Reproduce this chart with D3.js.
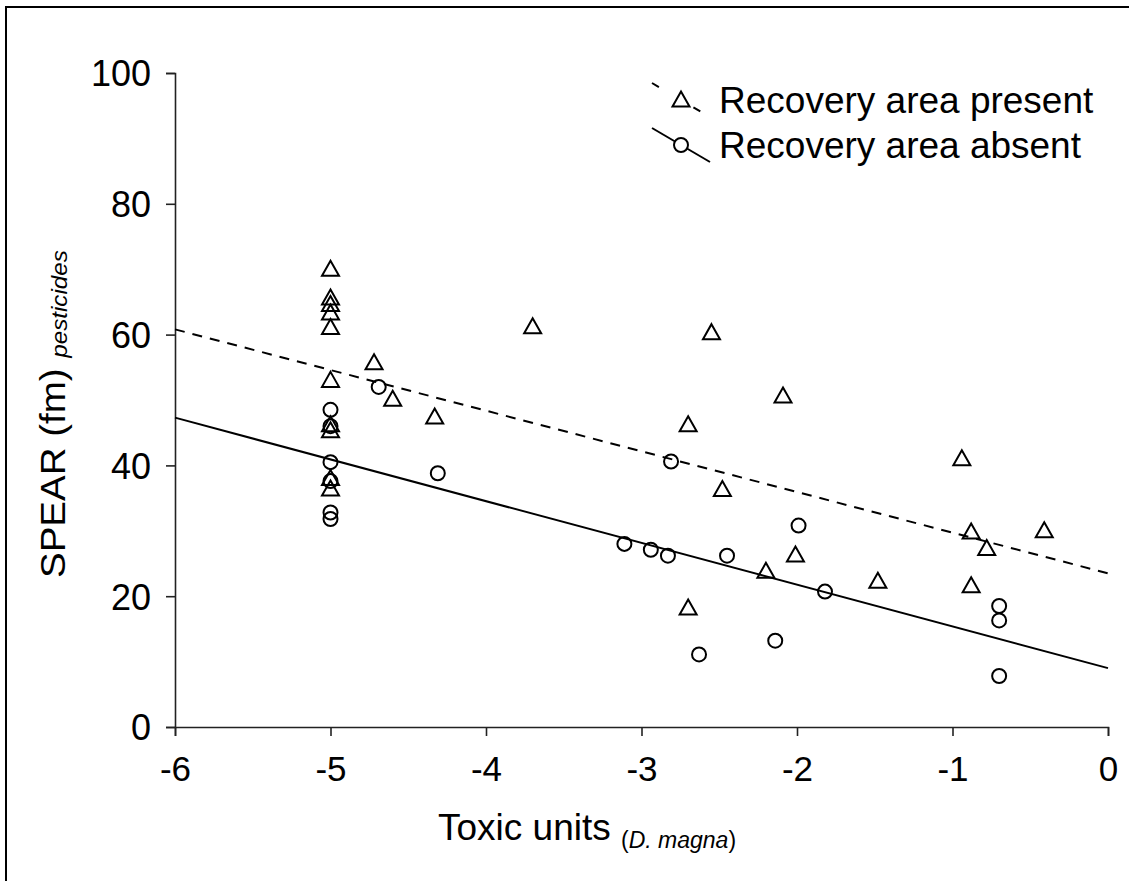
<!DOCTYPE html>
<html>
<head>
<meta charset="utf-8">
<script src="https://d3js.org/d3.v7.min.js"></script>
<style>
  html, body { margin: 0; padding: 0; background: #fff; }
  svg { display: block; }
  text { font-family: Arial, "Liberation Sans", sans-serif; fill: #000; }
</style>
</head>
<body>
<div id="chart"></div>
<script>
// Recovery area present (triangles)
const presentX = [-5, -5, -5, -5, -5, -5, -5, -5, -5, -5,
    -4.72, -4.60, -4.33, -3.70, -2.70, -2.55, -2.48, -2.70, -2.20, -2.09,
    -2.01, -1.48, -0.94, -0.88, -0.88, -0.78, -0.41];
const presentY = [70.0, 65.6, 64.6, 63.3, 61.1, 53.0, 46.2, 45.3, 38.0, 36.4,
    55.7, 50.1, 47.4, 61.2, 46.2, 60.3, 36.3, 18.2, 23.8, 50.6,
    26.3, 22.3, 41.0, 29.8, 21.6, 27.3, 30.0];

// Recovery area absent (circles)
const absentX = [-5, -5, -5, -5, -5, -5,
    -4.69, -4.31, -3.11, -2.94, -2.83, -2.81, -2.63, -2.45, -2.14,
    -1.99, -1.82, -0.70, -0.70, -0.70];
const absentY = [48.5, 46.0, 40.5, 37.6, 32.8, 31.8,
    52.0, 38.8, 28.0, 27.1, 26.2, 40.6, 11.1, 26.2, 13.2,
    30.8, 20.7, 18.5, 16.3, 7.8];

// regression lines (end points at x = -6 and x = 0)
const fitX = [-6, 0];
const presentFit = [60.8, 23.5];
const absentFit = [47.3, 9.0];

const xTicks = [-6, -5, -4, -3, -2, -1, 0];
const yTicks = [0, 20, 40, 60, 80, 100];
const legendLabels = ['Recovery area present', 'Recovery area absent'];

const width = 1129, height = 881;

const svg = d3.select('#chart')
    .append('svg')
    .attr('width', width)
    .attr('height', height);

// frame (only top and left edges show in the original)
svg.append('path')
    .attr('d', `M6,${height}V7H${width}`)
    .attr('fill', 'none')
    .attr('stroke', '#000')
    .attr('stroke-width', 2);

const x = d3.scaleLinear().domain([-6, 0]).range([175, 1108]);
const y = d3.scaleLinear().domain([0, 100]).range([727, 73]);

// axes
const xAxis = svg.append('g')
    .attr('transform', `translate(0,${y(0)})`)
    .call(d3.axisBottom(x).tickValues(xTicks).tickSize(9).tickFormat(d => String(d)));
const yAxis = svg.append('g')
    .attr('transform', `translate(${x(-6)},0)`)
    .call(d3.axisLeft(y).tickValues(yTicks).tickSize(9).tickPadding(15).tickFormat(d => String(d)));

[xAxis, yAxis].forEach(g => {
    g.select('.domain').attr('stroke', '#222').attr('stroke-width', 1.6);
    g.selectAll('.tick line').attr('stroke', '#222').attr('stroke-width', 1.6);
    g.selectAll('.tick text')
        .attr('font-family', 'Arial, "Liberation Sans", sans-serif')
        .attr('font-size', 36)
        .attr('fill', '#000');
});
xAxis.selectAll('.tick text')
    .attr('font-size', 35)
    .attr('y', 54)
    .attr('dy', null);
yAxis.selectAll('.tick text')
    .attr('dy', '0.36em');

// fitted lines
const line = d3.line().x(d => x(d[0])).y(d => y(d[1]));
svg.append('path')
    .datum(fitX.map((v, i) => [v, presentFit[i]]))
    .attr('d', line)
    .attr('fill', 'none')
    .attr('stroke', '#000')
    .attr('stroke-width', 2)
    .attr('stroke-dasharray', '10,8');
svg.append('path')
    .datum(fitX.map((v, i) => [v, absentFit[i]]))
    .attr('d', line)
    .attr('fill', 'none')
    .attr('stroke', '#000')
    .attr('stroke-width', 2);

// markers
const triPath = 'M0,-8.5L8.5,6.5L-8.5,6.5Z';
svg.append('g').selectAll('path')
    .data(presentX.map((v, i) => [v, presentY[i]]))
    .join('path')
    .attr('d', triPath)
    .attr('transform', d => `translate(${x(d[0])},${y(d[1])})`)
    .attr('fill', 'none')
    .attr('stroke', '#000')
    .attr('stroke-width', 2);
svg.append('g').selectAll('circle')
    .data(absentX.map((v, i) => [v, absentY[i]]))
    .join('circle')
    .attr('cx', d => x(d[0]))
    .attr('cy', d => y(d[1]))
    .attr('r', 7)
    .attr('fill', 'none')
    .attr('stroke', '#000')
    .attr('stroke-width', 2);

// legend
const legend = svg.append('g');
const legendY = [100, 145];
legend.append('path')
    .attr('d', `M652,${legendY[0] - 17}L710,${legendY[0] + 17}`)
    .attr('stroke', '#000').attr('stroke-width', 2).attr('stroke-dasharray', '8,40');
legend.append('path')
    .attr('d', triPath)
    .attr('transform', `translate(681,${legendY[0]})`)
    .attr('fill', 'none').attr('stroke', '#000').attr('stroke-width', 2);
legend.append('path')
    .attr('d', `M652,${legendY[1] - 17}L710,${legendY[1] + 17}`)
    .attr('stroke', '#000').attr('stroke-width', 2);
legend.append('circle')
    .attr('cx', 681).attr('cy', legendY[1]).attr('r', 7)
    .attr('fill', '#fff').attr('stroke', '#000').attr('stroke-width', 2);
legend.selectAll('text')
    .data(legendLabels)
    .join('text')
    .attr('x', 719)
    .attr('y', (d, i) => legendY[i] + 13)
    .attr('font-size', 37)
    .text(d => d);

// x axis title
const xt = svg.append('text')
    .attr('x', 438)
    .attr('y', 840)
    .attr('font-size', 37);
xt.append('tspan').text('Toxic units ');
xt.append('tspan').attr('font-size', 23).attr('dy', 8).text('(');
xt.append('tspan').attr('font-size', 23).attr('font-style', 'italic').text('D. magna');
xt.append('tspan').attr('font-size', 23).text(')');

// y axis title (the original font runs a little longer than Arial)
const yt = svg.append('text')
    .attr('transform', 'translate(65,578) rotate(-90) scale(1.1,1)')
    .attr('font-size', 35);
yt.append('tspan').text('SPEAR (fm) ');
yt.append('tspan').attr('font-size', 22).attr('font-style', 'italic').attr('dy', 2).text('pesticides');
</script>
</body>
</html>
